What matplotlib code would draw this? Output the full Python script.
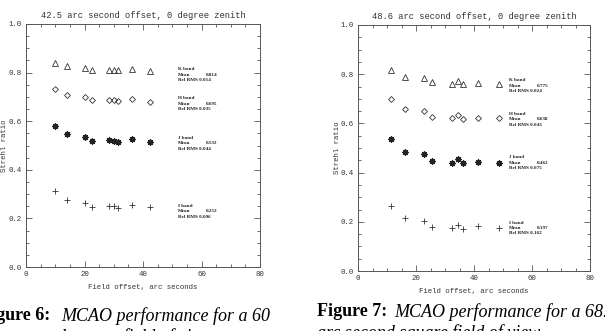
import matplotlib
matplotlib.use("Agg")
import matplotlib.pyplot as plt
from matplotlib.ticker import MultipleLocator

# Data
bands = ["K band", "H band", "J band", "I band"]

x_left = [10.0, 14.1, 20.0, 22.4, 28.3, 30.0, 31.6, 36.1, 42.4]
k_left = [0.840, 0.826, 0.818, 0.812, 0.812, 0.812, 0.810, 0.814, 0.808]
h_left = [0.733, 0.708, 0.698, 0.688, 0.689, 0.689, 0.684, 0.691, 0.681]
j_left = [0.581, 0.546, 0.533, 0.518, 0.521, 0.520, 0.514, 0.525, 0.514]
i_left = [0.313, 0.276, 0.263, 0.246, 0.249, 0.249, 0.242, 0.256, 0.246]
mean_left = [0.814, 0.695, 0.532, 0.252]
rms_left = [0.014, 0.035, 0.044, 0.096]

x_right = [11.5, 16.2, 22.9, 25.6, 32.4, 34.4, 36.2, 41.3, 48.6]
k_right = [0.816, 0.789, 0.784, 0.767, 0.762, 0.773, 0.761, 0.763, 0.759]
h_right = [0.698, 0.659, 0.650, 0.625, 0.620, 0.633, 0.618, 0.622, 0.620]
j_right = [0.535, 0.485, 0.477, 0.449, 0.441, 0.455, 0.438, 0.445, 0.441]
i_right = [0.263, 0.214, 0.205, 0.180, 0.176, 0.186, 0.172, 0.182, 0.176]
mean_right = [0.775, 0.638, 0.462, 0.197]
rms_right = [0.024, 0.043, 0.075, 0.162]

INK = "#333333"
MONO = "Liberation Mono"
SERIF = "Liberation Serif"

fig = plt.figure(figsize=(6.05, 3.31), dpi=100)


def panel(rect, title, x, series, means, rms):
    ax = fig.add_axes(rect)
    ax.plot(x, series[0], ls="none", marker="^", ms=4.2, mfc="none", mec=INK, mew=0.6)
    ax.plot(x, series[1], ls="none", marker="D", ms=3.0, mfc="none", mec=INK, mew=0.6)
    ax.plot(x, series[2], ls="none", marker=(8, 2, 0), ms=4.5, mec="#222222", mew=0.9)
    ax.plot(x, series[3], ls="none", marker="+", ms=5, mec=INK, mew=0.6)

    # per-band annotation block
    for name, m, r in zip(bands, means, rms):
        kw = dict(textcoords="offset points", fontsize=3.7, family=SERIF,
                  weight="bold", color="#222222", va="center")
        ax.annotate(name, (52, m), xytext=(0, 0), **kw)
        ax.annotate("Mean", (52, m), xytext=(0, -3.9), **kw)
        ax.annotate(f"{m:.3f}", (61.5, m), xytext=(0, -3.9), **kw)
        ax.annotate(f"Rel RMS {r:.3f}", (52, m), xytext=(0, -7.8), **kw)

    ax.set_xlim(0, 80)
    ax.set_ylim(0, 1.0)
    ax.xaxis.set_major_locator(MultipleLocator(20))
    ax.xaxis.set_minor_locator(MultipleLocator(5))
    ax.yaxis.set_major_locator(MultipleLocator(0.2))
    ax.yaxis.set_minor_locator(MultipleLocator(0.05))
    ax.yaxis.set_major_formatter(plt.FormatStrFormatter("%.1f"))
    ax.tick_params(which="both", direction="in", top=True, right=True,
                   colors="#555555", labelcolor=INK, labelsize=5.3, width=0.6)
    ax.tick_params(which="major", length=4, pad=3)
    ax.tick_params(which="minor", length=2)
    for lab in ax.get_xticklabels() + ax.get_yticklabels():
        lab.set_family(MONO)
    for s in ax.spines.values():
        s.set_color("#555555")
        s.set_linewidth(0.7)
    ax.set_title(title, fontsize=6.3, family=MONO, color=INK, pad=4)
    ax.set_xlabel("Field offset, arc seconds", fontsize=5.3, family=MONO,
                  color=INK, labelpad=4)
    ax.set_ylabel("Strehl ratio", fontsize=5.3, family=MONO, color=INK)
    ax.yaxis.set_label_coords(-0.075, 0.5)
    return ax


panel([26 / 605, 64 / 331, 234 / 605, 243 / 331],
      "42.5 arc second offset, 0 degree zenith",
      x_left, [k_left, h_left, j_left, i_left], mean_left, rms_left)
panel([358 / 605, 60 / 331, 232 / 605, 246 / 331],
      "48.6 arc second offset, 0 degree zenith",
      x_right, [k_right, h_right, j_right, i_right], mean_right, rms_right)

# captions (partly cut off by the page crop)
cap = dict(fontsize=13, family=SERIF, color="black", va="center")
fig.text(50 / 605, 1 - 316 / 331, "Figure 6:", ha="right", weight="bold", **cap)
fig.text(61 / 605, 1 - 316 / 331, "MCAO performance for a 60", ha="left",
         style="italic", **cap)
fig.text(-12 / 605, 1 - 337 / 331, "arc second square field of view", ha="left",
         style="italic", **cap)
fig.text(317 / 605, 1 - 312 / 331, "Figure 7:", ha="left", weight="bold", **cap)
fig.text(394 / 605, 1 - 312 / 331, "MCAO performance for a 68.6", ha="left",
         style="italic", **cap)
fig.text(317 / 605, 1 - 333 / 331, "arc second square field of view", ha="left",
         style="italic", **cap)

fig.savefig("out.png", dpi=100)
